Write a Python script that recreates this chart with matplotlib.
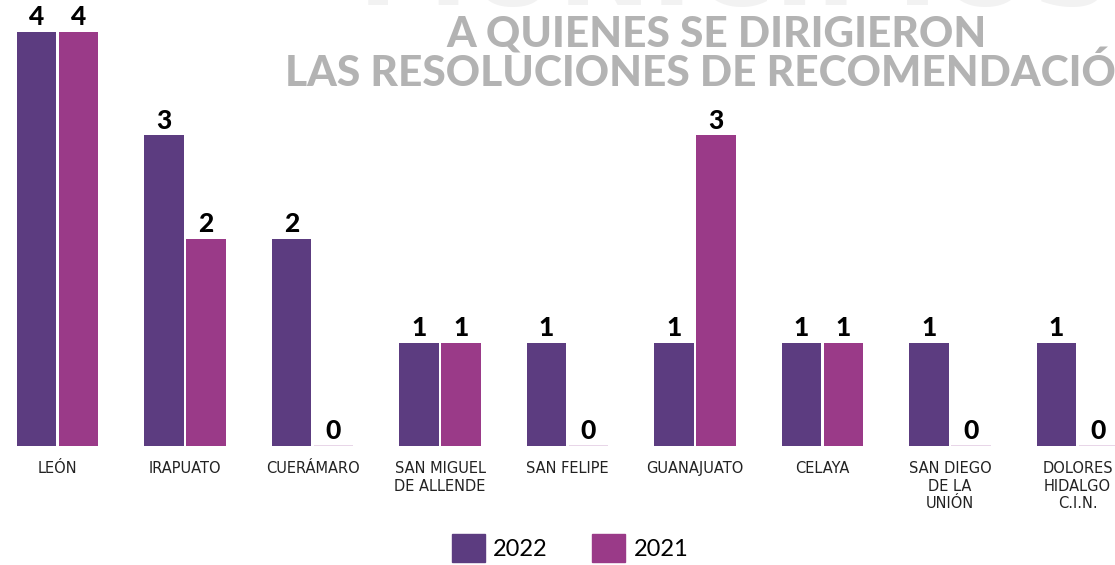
import numpy as np
import matplotlib
matplotlib.use("Agg")
import matplotlib.pyplot as plt
from matplotlib.patches import Patch

# data
municipios = ["LEÓN", "IRAPUATO", "CUERÁMARO", "SAN MIGUEL\nDE ALLENDE", "SAN FELIPE",
              "GUANAJUATO", "CELAYA", "SAN DIEGO\nDE LA\nUNIÓN", "DOLORES\nHIDALGO\nC.I.N."]
valores_2022 = [4, 3, 2, 1, 1, 1, 1, 1, 1]
valores_2021 = [4, 2, 0, 1, 0, 3, 1, 0, 0]
series = ["2022", "2021"]

color_2022 = "#5c3c80"
color_2021 = "#9a3a88"
color_cero = "#e8d6e8"

fig = plt.figure(figsize=(11.15, 5.65), dpi=100)
ax = fig.add_axes([0, 0.2106, 1, 0.7894])

x = np.arange(len(municipios))
w = 0.31
off = 0.165


def barras(pos, vals, color):
    vals = np.array(vals, dtype=float)
    colores = [color_cero if v == 0 else color for v in vals]
    alturas = np.maximum(vals, 0.012)
    ax.bar(pos, alturas, width=w, color=colores, linewidth=0)
    for xi, v in zip(pos, vals):
        ax.annotate(f"{int(v)}", (xi, v), xytext=(0, 2), textcoords="offset points",
                    ha="center", va="bottom", fontsize=19, fontweight="black",
                    color="black", family="Lato")


barras(x - off, valores_2022, color_2022)
barras(x + off, valores_2021, color_2021)

ax.set_xlim(-0.451, 8.294)
ax.set_ylim(0, 4.309)
ax.set_xticks(x)
ax.set_xticklabels(municipios, fontsize=10.5, color="#222222", linespacing=1.2,
                   family="DejaVu Sans")
ax.tick_params(axis="x", length=0, pad=11)
ax.set_yticks([])
for s in ax.spines.values():
    s.set_visible(False)
ax.patch.set_alpha(0)

# faded background heading, only its lower edge shows at the top
fig.text(0.66, 0.992, "MUNICIPIOS", ha="center", va="baseline", fontsize=80,
         fontweight="bold", color="#f2f2f2", zorder=-5)
fig.text(717 / 1115, 1 - 34 / 565, "A QUIENES SE DIRIGIERON", ha="center", va="center",
         fontsize=30.5, fontweight="black", color="#b3b3b3", family="Lato")
fig.text(717 / 1115, 1 - 73 / 565, "LAS RESOLUCIONES DE RECOMENDACIÓN", ha="center",
         va="center", fontsize=30.5, fontweight="black", color="#b3b3b3", family="Lato")

handles = [Patch(color=color_2022), Patch(color=color_2021)]
fig.legend(handles, series, loc="center", bbox_to_anchor=(570 / 1115, 1 - 548 / 565),
           ncol=2, frameon=False, handlelength=1.4, handleheight=1.4,
           handletextpad=0.35, columnspacing=1.9, prop={"family": "Lato", "size": 17})

fig.savefig("out.png", dpi=100)
